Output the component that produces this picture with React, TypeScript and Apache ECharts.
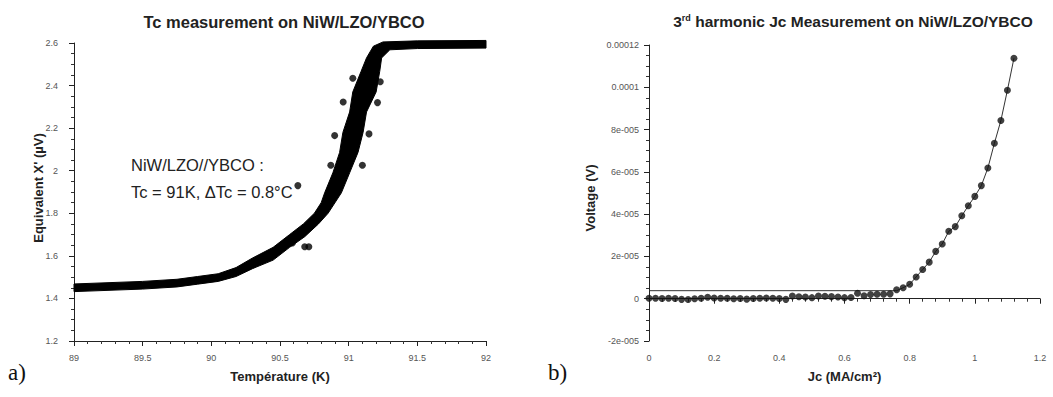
import { useEffect, useRef } from "react";
import * as echarts from "echarts";

// ---- Panel a) : Tc measurement (dense data band, read as its upper/left and lower/right envelopes) ----
const bandUpperT = [89.0, 89.5, 89.75, 89.9, 90.05, 90.18, 90.3, 90.45, 90.57, 90.67, 90.75, 90.8, 90.825, 90.885, 90.934, 90.958, 91.007, 91.03, 91.09, 91.13, 91.18, 91.25, 91.5, 92.0];
const bandUpperV = [1.468, 1.48, 1.49, 1.503, 1.516, 1.545, 1.59, 1.64, 1.7, 1.75, 1.8, 1.85, 1.896, 1.99, 2.086, 2.18, 2.276, 2.37, 2.466, 2.53, 2.585, 2.605, 2.61, 2.612];
const bandLowerT = [89.0, 89.5, 89.75, 89.9, 90.05, 90.18, 90.3, 90.45, 90.57, 90.68, 90.78, 90.85, 90.947, 91.007, 91.068, 91.105, 91.13, 91.2, 91.226, 91.24, 91.3, 91.5, 92.0];
const bandLowerV = [1.432, 1.444, 1.454, 1.467, 1.48, 1.503, 1.54, 1.58, 1.64, 1.69, 1.75, 1.8, 1.896, 1.99, 2.086, 2.18, 2.276, 2.37, 2.466, 2.53, 2.568, 2.574, 2.576];

const outlierT = [90.87, 91.1, 90.898, 91.148, 90.96, 91.21, 91.03, 91.23, 90.63, 90.68, 90.71, 90.59];
const outlierV = [2.026, 2.026, 2.165, 2.173, 2.323, 2.32, 2.434, 2.418, 1.93, 1.643, 1.643, 1.66];

const tempTicks = ["89", "89.5", "90", "90.5", "91", "91.5", "92"];
const chiTicks = ["1.2", "1.4", "1.6", "1.8", "2", "2.2", "2.4", "2.6"];

// ---- Panel b) : 3rd harmonic Jc ----
const jc = [0, 0.02, 0.04, 0.06, 0.08, 0.1, 0.12, 0.14, 0.16, 0.18, 0.2, 0.22, 0.24, 0.26, 0.28, 0.3, 0.32, 0.34, 0.36, 0.38, 0.4, 0.42, 0.44, 0.46, 0.48, 0.5, 0.52, 0.54, 0.56, 0.58, 0.6, 0.62, 0.64, 0.66, 0.68, 0.7, 0.72, 0.74, 0.76, 0.78, 0.8, 0.82, 0.84, 0.86, 0.88, 0.9, 0.92, 0.94, 0.96, 0.98, 1.0, 1.02, 1.04, 1.06, 1.08, 1.1, 1.12];
const voltageMicro = [0.2, 0.2, 0.1, 0.2, 0.1, -0.3, -0.4, 0.0, 0.2, 0.7, 0.3, 0.2, 0.2, 0.0, 0.1, -0.2, 0.1, 0.2, 0.3, 0.2, 0.1, -0.3, 1.3, 0.9, 0.8, 0.5, 1.3, 1.2, 1.0, 0.8, 0.5, 0.6, 2.6, 1.4, 2.0, 2.1, 2.1, 2.3, 4.2, 5.2, 6.8, 10.3, 13.8, 17.3, 22.4, 25.9, 31.9, 34.1, 39.2, 44.0, 48.4, 53.5, 61.8, 73.5, 84.3, 98.6, 113.7];
const fitThresholdMicro = 3.8;
const fitStartJc = 0.76;

const jcTicks = ["0", "0.2", "0.4", "0.6", "0.8", "1", "1.2"];
const voltTicks = ["-2e-005", "0", "2e-005", "4e-005", "6e-005", "8e-005", "0.0001", "0.00012"];

const FONT = "Liberation Sans, Arial, sans-serif";
const SERIF = "Liberation Serif, Times New Roman, serif";
const tickLabel = { fontFamily: FONT, fontSize: 9, color: "#555" };
const nameStyle = { fontFamily: FONT, fontSize: 13, fontWeight: "bold", color: "#222" };

export default function App() {
  const ref = useRef<HTMLDivElement>(null);
  useEffect(() => {
    if (!ref.current) return;
    const chart = echarts.init(ref.current, null, { renderer: "svg" });

    const upper = bandUpperT.map((t, i) => [t, bandUpperV[i]]);
    const lower = bandLowerT.map((t, i) => [t, bandLowerV[i]]);
    const outliers = outlierT.map((t, i) => [t, outlierV[i]]);

    const pts = jc.map((x, i) => [x, voltageMicro[i] * 1e-6]);
    const fit: number[][] = [[0, fitThresholdMicro * 1e-6], [fitStartJc, fitThresholdMicro * 1e-6]];
    jc.forEach((x, i) => {
      if (x > fitStartJc + 1e-9) fit.push([x, voltageMicro[i] * 1e-6]);
    });

    const axisCommon = {
      axisLine: { show: true, lineStyle: { color: "#222", width: 1 } },
      axisTick: { show: true, inside: false, length: 5, lineStyle: { color: "#222" } },
      minorTick: { show: true, length: 3, lineStyle: { color: "#333" } },
      splitLine: { show: false },
      minorSplitLine: { show: false },
    };

    chart.setOption({
      animation: false,
      backgroundColor: "#fff",
      title: [
        {
          text: "Tc measurement on NiW/LZO/YBCO",
          left: 279,
          top: 8,
          textAlign: "center",
          textStyle: { fontFamily: FONT, fontSize: 16.5, fontWeight: "bold", color: "#222" },
        },
        {
          text: "3{sup|rd} harmonic Jc Measurement on NiW/LZO/YBCO",
          left: 848,
          top: 8,
          textAlign: "center",
          textStyle: {
            fontFamily: FONT,
            fontSize: 15.5,
            fontWeight: "bold",
            color: "#222",
            rich: {
              sup: { fontFamily: FONT, fontSize: 9, fontWeight: "bold", color: "#222", verticalAlign: "top" },
            },
          },
        },
      ],
      grid: [
        { left: 74, top: 43, width: 412, height: 298, containLabel: false },
        { left: 649, top: 45, width: 391, height: 296, containLabel: false },
      ],
      xAxis: [
        {
          ...axisCommon,
          gridIndex: 0,
          type: "value",
          min: 89,
          max: 92,
          interval: 0.5,
          minorTick: { ...axisCommon.minorTick, splitNumber: 5 },
          axisLabel: { ...tickLabel, margin: 12, formatter: (v: number) => tempTicks[Math.round((v - 89) / 0.5)] ?? "" },
          name: "Température (K)",
          nameLocation: "middle",
          nameGap: 29,
          nameTextStyle: nameStyle,
        },
        {
          ...axisCommon,
          gridIndex: 1,
          type: "value",
          min: 0,
          max: 1.2,
          interval: 0.2,
          minorTick: { ...axisCommon.minorTick, splitNumber: 5 },
          axisLabel: { ...tickLabel, margin: 12, formatter: (v: number) => jcTicks[Math.round(v / 0.2)] ?? "" },
          name: "Jc (MA/cm²)",
          nameLocation: "middle",
          nameGap: 29,
          nameTextStyle: nameStyle,
        },
      ],
      yAxis: [
        {
          ...axisCommon,
          gridIndex: 0,
          type: "value",
          min: 1.2,
          max: 2.6,
          interval: 0.2,
          minorTick: { ...axisCommon.minorTick, splitNumber: 4 },
          axisLabel: { ...tickLabel, margin: 16, formatter: (v: number) => chiTicks[Math.round((v - 1.2) / 0.2)] ?? "" },
        },
        {
          ...axisCommon,
          gridIndex: 1,
          type: "value",
          min: -2e-5,
          max: 1.2e-4,
          interval: 2e-5,
          minorTick: { ...axisCommon.minorTick, splitNumber: 4 },
          axisLabel: { ...tickLabel, margin: 10, formatter: (v: number) => voltTicks[Math.round(v / 2e-5) + 1] ?? "" },
        },
      ],
      series: [
        {
          type: "custom",
          xAxisIndex: 0,
          yAxisIndex: 0,
          data: [[89, 1.45]],
          clip: false,
          renderItem: (_params: any, api: any) => {
            const pts2: number[][] = [];
            upper.forEach((p) => pts2.push(api.coord(p)));
            for (let i = lower.length - 1; i >= 0; i--) pts2.push(api.coord(lower[i]));
            return {
              type: "polygon",
              shape: { points: pts2, smooth: 0 },
              style: { fill: "#000", stroke: "#000", lineWidth: 1, lineJoin: "round" },
            };
          },
          z: 2,
        },
        {
          type: "scatter",
          xAxisIndex: 0,
          yAxisIndex: 0,
          data: outliers,
          symbol: "circle",
          symbolSize: 7,
          itemStyle: { color: "#000" },
          z: 3,
        },
        {
          type: "line",
          xAxisIndex: 1,
          yAxisIndex: 1,
          data: fit,
          symbol: "none",
          lineStyle: { color: "#333", width: 1 },
          z: 2,
        },
        {
          type: "scatter",
          xAxisIndex: 1,
          yAxisIndex: 1,
          data: pts,
          symbol: "circle",
          symbolSize: 7,
          itemStyle: { color: "#111" },
          z: 3,
        },
      ],
      graphic: [
        {
          type: "text",
          x: 38,
          y: 188,
          rotation: Math.PI / 2,
          style: { text: "Equivalent X' (µV)", fontFamily: FONT, fontSize: 13, fontWeight: "bold", fill: "#222", align: "center", verticalAlign: "middle" },
        },
        {
          type: "text",
          x: 590,
          y: 198,
          rotation: Math.PI / 2,
          style: { text: "Voltage (V)", fontFamily: FONT, fontSize: 13, fontWeight: "bold", fill: "#222", align: "center", verticalAlign: "middle" },
        },
        {
          type: "text",
          left: 131,
          top: 156,
          style: { text: "NiW/LZO//YBCO :", fontFamily: FONT, fontSize: 16.5, fill: "#222" },
        },
        {
          type: "text",
          left: 131,
          top: 183,
          style: { text: "Tc = 91K, ΔTc = 0.8°C", fontFamily: FONT, fontSize: 16.5, fill: "#222" },
        },
        {
          type: "text",
          left: 8,
          top: 361,
          style: { text: "a)", fontFamily: SERIF, fontSize: 23, fill: "#111" },
        },
        {
          type: "text",
          left: 548,
          top: 361,
          style: { text: "b)", fontFamily: SERIF, fontSize: 23, fill: "#111" },
        },
      ],
    });
    return () => chart.dispose();
  }, []);
  return <div ref={ref} style={{ position: "absolute", left: 0, top: 0, width: 1053, height: 397 }} />;
}
